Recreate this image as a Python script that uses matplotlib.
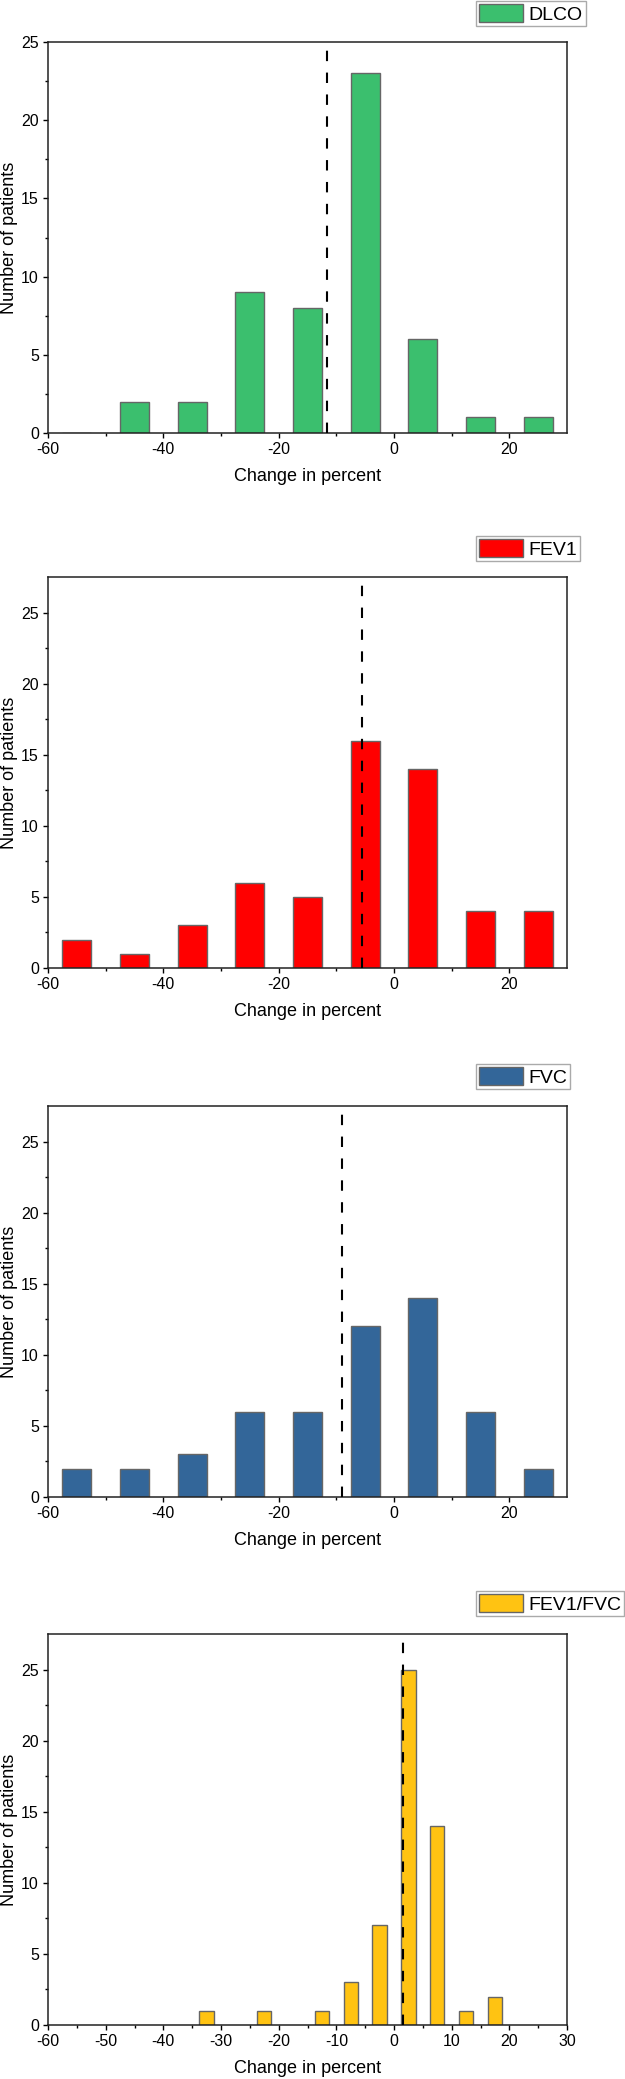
import matplotlib
matplotlib.use("Agg")
from matplotlib import pyplot as plt
from matplotlib.ticker import MultipleLocator, FixedLocator

plt.rcParams['font.family'] = ['Liberation Sans', 'DejaVu Sans']
plt.rcParams['axes.unicode_minus'] = False

# bin centres (percent change) and patient counts
centers_10 = [-55, -45, -35, -25, -15, -5, 5, 15, 25]
dlco_counts = [0, 2, 2, 9, 8, 23, 6, 1, 1]
fev1_counts = [2, 1, 3, 6, 5, 16, 14, 4, 4]
fvc_counts = [2, 2, 3, 6, 6, 12, 14, 6, 2]

centers_5 = [-32.5, -22.5, -12.5, -7.5, -2.5, 2.5, 7.5, 12.5, 17.5]
ratio_counts = [1, 1, 1, 3, 7, 25, 14, 1, 2]

# mean change (dashed lines)
dlco_mean = -11.6
fev1_mean = -5.5
fvc_mean = -9.0
ratio_mean = 1.5

panels = [
    # label, centers, counts, bar width, colour, mean, ylim top, axes top px, legend top px
    ('DLCO', centers_10, dlco_counts, 5, '#3BBF6E', dlco_mean, 25, 42, 1),
    ('FEV1', centers_10, fev1_counts, 5, '#FF0000', fev1_mean, 27.5, 577, 536),
    ('FVC', centers_10, fvc_counts, 5, '#336699', fvc_mean, 27.5, 1106, 1064),
    ('FEV1/FVC', centers_5, ratio_counts, 2.5, '#FFC312', ratio_mean, 27.5, 1634, 1591),
]

W, H = 625, 2079
fig = plt.figure(figsize=(W / 100, H / 100), dpi=100)

ax_left, ax_w, ax_h = 48, 519, 391

for i, (name, xs, ys, width, color, mean, ytop, top_px, leg_px) in enumerate(panels):
    ax = fig.add_axes([ax_left / W, 1 - (top_px + ax_h) / H, ax_w / W, ax_h / H])
    bars = ax.bar(xs, ys, width=width, color=color, edgecolor='#666666',
                  linewidth=1, label=name, zorder=2)
    ax.axvline(mean, color='black', linestyle=(0, (5, 5.5)), linewidth=1.5, zorder=3)

    ax.set_xlim(-60, 30)
    ax.set_ylim(0, ytop)
    ax.set_yticks([0, 5, 10, 15, 20, 25])
    ax.yaxis.set_minor_locator(FixedLocator([2.5, 7.5, 12.5, 17.5, 22.5]))
    if i < 3:
        ax.set_xticks([-60, -40, -20, 0, 20])
        ax.xaxis.set_minor_locator(FixedLocator([-50, -30, -10, 10]))
    else:
        ax.set_xticks([-60, -50, -40, -30, -20, -10, 0, 10, 20, 30])
        ax.xaxis.set_minor_locator(FixedLocator([-55, -45, -35, -25, -15, -5, 5, 15, 25]))

    ax.tick_params(which='major', direction='out', length=3.5, width=1, labelsize=11.5,
                   top=False, right=False, pad=3)
    ax.tick_params(which='minor', direction='out', length=2.2, width=1,
                   top=False, right=False)
    for side in ['left', 'bottom', 'top', 'right']:
        ax.spines[side].set_linewidth(1.1)
        ax.spines[side].set_color('#222222')

    ax.set_xlabel('Change in percent', fontsize=13, labelpad=8)
    ax.set_ylabel('Number of patients', fontsize=13)
    ax.yaxis.set_label_coords(-0.058, 0.5)

    leg = ax.legend(handles=[bars], loc='upper left',
                    bbox_to_anchor=(476 / W, 1 - leg_px / H),
                    bbox_transform=fig.transFigure,
                    fontsize=14, frameon=True, fancybox=False, framealpha=1,
                    edgecolor='#AAAAAA', borderpad=0.15, borderaxespad=0,
                    handlelength=2.25, handleheight=1.05, handletextpad=0.3)
    leg.get_frame().set_linewidth(1)

fig.savefig('out.png', dpi=100)
